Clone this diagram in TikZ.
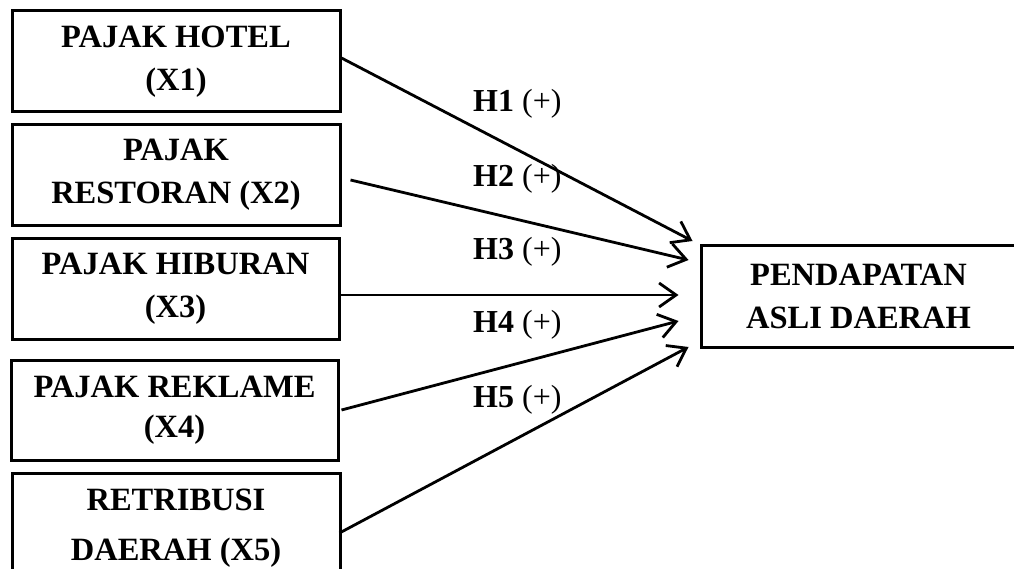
\documentclass[tikz,border=0pt]{standalone}
\usepackage{fontspec}
\setmainfont{Liberation Serif}
\usetikzlibrary{arrows.meta}
\tikzset{
  varbox/.style={draw=black, line width=3pt, minimum width=328pt, minimum height=101pt,
    inner sep=0pt, align=center, font=\bfseries\fontsize{32.5}{43}\selectfont},
  conn/.style={line width=2.8pt, -{Straight Barb[length=17pt, width=24pt, line width=2.8pt]}},
  hyp/.style={anchor=base west, inner sep=0pt, font=\fontsize{32}{37}\selectfont}
}
\begin{document}
\begin{tikzpicture}[x=1pt, y=-1pt]
\useasboundingbox (0,0) rectangle (1014,569);
\clip (0,0) rectangle (1014,569);
\node[varbox] (x1) at (176,61.5) {PAJAK HOTEL\\(X1)};
\node[varbox] (x2) at (176,175) {PAJAK\\RESTORAN (X2)};
\node[varbox, minimum width=327pt, minimum height=100pt] (x3) at (175.5,289) {PAJAK HIBURAN\\(X3)};
\node[varbox, minimum width=327pt, minimum height=100pt, font=\bfseries\fontsize{32.5}{40}\selectfont] (x4) at (174.5,410) {PAJAK REKLAME\\(X4)};
\node[varbox, minimum height=110pt, font=\bfseries\fontsize{32.5}{50}\selectfont] (x5) at (176,528) {RETRIBUSI\\DAERAH (X5)};
\node[varbox, minimum width=315pt] (pad) at (858.5,296.5) {PENDAPATAN\\ASLI DAERAH};

\draw[conn] ([yshift=3.5pt]x1.east) -- ([shift={(-7,-55.5)}]pad.west);
\draw[conn] ([shift={(9,5)}]x2.east) -- ([shift={(-11,-36.5)}]pad.west);
\draw[conn] ([yshift=-6pt]x3.east) -- ([shift={(-21,-1.5)}]pad.west);
\draw[conn] ([xshift=2pt]x4.east) -- ([shift={(-21,24.5)}]pad.west);
\draw[conn] ([shift={(-2,5)}]x5.east) -- ([shift={(-11,50.5)}]pad.west);

\node[hyp] (h1) at (473,112) {\textbf{H1} (+)};
\node[hyp] (h2) at (473,187) {\textbf{H2} (+)};
\node[hyp] (h3) at (473,260) {\textbf{H3} (+)};
\node[hyp] (h4) at (473,332) {\textbf{H4} (+)};
\node[hyp] (h5) at (473,407) {\textbf{H5} (+)};
\end{tikzpicture}
\end{document}
